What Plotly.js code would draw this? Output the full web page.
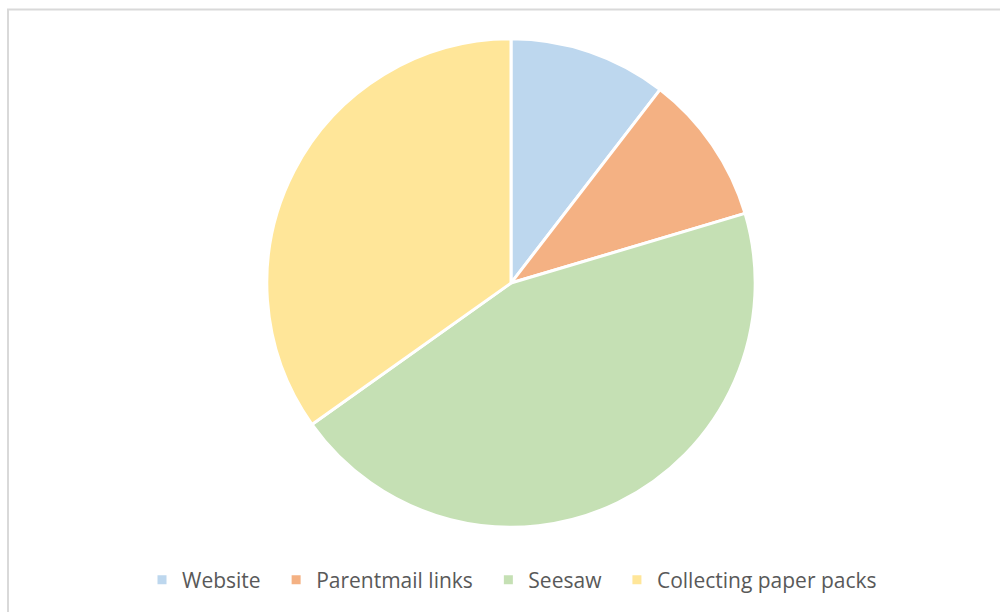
<!DOCTYPE html>
<html>
<head>
<meta charset="utf-8">
<script src="https://cdn.plot.ly/plotly-3.0.1.min.js"></script>
<style>html,body{margin:0;padding:0;background:#fff;}#chart{width:1000px;height:612px;}</style>
</head>
<body>
<div id="chart"></div>
<script>
var categories = ["Website", "Parentmail links", "Seesaw", "Collecting paper packs"];
var values = [21, 20, 90, 70];
var colors = ["#BDD7EE", "#F4B183", "#C5E0B4", "#FFE699"];

// legend labels with a little trailing space to mimic the wider gaps between entries
var legendLabels = categories.map(function (c, i) { return i < categories.length - 1 ? c + "\u2002" : c; });

var trace = {
  type: "pie",
  labels: legendLabels,
  values: values,
  sort: false,
  direction: "clockwise",
  rotation: 0,
  textinfo: "none",
  hoverinfo: "label+value+percent",
  marker: {colors: colors, line: {color: "#ffffff", width: 3}},
  domain: {x: [0.022, 1.0], y: [0.1385, 0.9365]}
};

var layout = {
  width: 1000,
  height: 612,
  margin: {l: 0, r: 0, t: 0, b: 0},
  paper_bgcolor: "#ffffff",
  showlegend: true,
  legend: {
    orientation: "h",
    x: 0.512,
    xanchor: "center",
    y: 0.052,
    yanchor: "middle",
    font: {family: "Open Sans, sans-serif", size: 21, color: "#595959"},
    itemwidth: 30,
    traceorder: "normal"
  },
  shapes: [{
    type: "rect", xref: "paper", yref: "paper",
    x0: 0.008, x1: 1.02, y0: -0.02, y1: 0.9845,
    line: {color: "#d9d9d9", width: 2},
    layer: "below"
  }]
};

Plotly.newPlot("chart", [trace], layout, {displayModeBar: false, staticPlot: true});
</script>
</body>
</html>
